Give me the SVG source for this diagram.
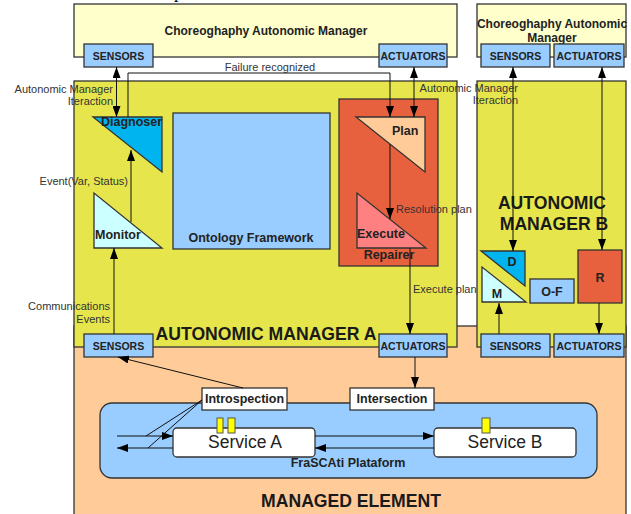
<svg xmlns="http://www.w3.org/2000/svg" width="631" height="514" viewBox="0 0 631 514">
  <style>
    text { font-family: "Liberation Sans", Arial, sans-serif; }
    .box { stroke: #333; stroke-width: 1.3; }
    .chore { fill: #ffffcc; }
    .am { fill: #e6e64c; }
    .managed { fill: #ffcc99; }
    .port { fill: #99ccff; }
    .red { fill: #e8613e; }
    .white { fill: #ffffff; }
    .pin { fill: #ffff00; stroke: #555; stroke-width: 1; }
    .port-lbl { font-size: 10.5px; font-weight: bold; fill: #222; text-anchor: middle; }
    .title { font-size: 12px; font-weight: bold; fill: #222; text-anchor: middle; }
    .big { font-size: 17.6px; font-weight: bold; fill: #1a1a1a; text-anchor: middle; }
    .lbl { font-size: 12.5px; font-weight: bold; fill: #222; }
    .note { font-size: 11px; fill: #333; }
    .conn { stroke: #111; stroke-width: 1; fill: none; }
  </style>
  <defs>
    <marker id="arr" viewBox="0 0 11 8" refX="11" refY="4" markerWidth="11" markerHeight="8" markerUnits="userSpaceOnUse" orient="auto-start-reverse">
      <path d="M0,0 L11,4 L0,8 z" fill="#000"/>
    </marker>
  </defs>

  <rect width="631" height="514" fill="#ffffff"/>
  <text x="174" y="-2" font-size="18" fill="#000" style="font-family:'Liberation Serif', serif">p</text>

  <!-- managed element background -->
  <g id="managed-element">
    <rect class="box managed" x="74" y="326" width="552" height="200"/>
    <text class="big" x="351" y="507" font-size="18">MANAGED ELEMENT</text>
  </g>

  <!-- choreography managers -->
  <g id="choreography-a">
    <rect class="box chore" x="74" y="4" width="383" height="53"/>
    <text class="title" x="266" y="35">Choreoghaphy Autonomic Manager</text>
  </g>
  <g id="choreography-b">
    <rect class="box chore" x="477" y="4" width="149" height="53"/>
    <text class="title" x="552" y="28">Choreoghaphy Autonomic</text>
    <text class="title" x="552" y="42">Manager</text>
  </g>

  <!-- autonomic manager A -->
  <g id="autonomic-manager-a">
    <rect class="box am" x="74" y="81" width="383" height="266"/>
    <text class="big" x="266" y="340">AUTONOMIC MANAGER A</text>
  </g>
  <g id="ontology-framework">
    <rect class="box port" x="173" y="113" width="157" height="136"/>
    <text class="lbl" x="251" y="242" text-anchor="middle" font-size="12.8">Ontology Framework</text>
  </g>
  <g id="planner-area">
    <rect class="box red" x="339" y="99" width="99" height="167"/>
  </g>
  <g id="diagnoser">
    <polygon class="box" points="93,117 162,117 162,172" fill="#00b4f0"/>
    <text class="lbl" x="101" y="126">Diagnoser</text>
  </g>
  <g id="monitor">
    <polygon class="box" points="94,193 94,248 162,248" fill="#ccffff"/>
    <text class="lbl" x="95" y="239">Monitor</text>
  </g>
  <g id="plan">
    <polygon class="box" points="356,117 425,117 425,172" fill="#ffcc99"/>
    <text class="lbl" x="392" y="135">Plan</text>
  </g>
  <g id="execute">
    <polygon class="box" points="357,193 357,248 426,248" fill="#ff8080"/>
    <text class="lbl" x="357" y="238">Execute</text>
    <text class="lbl" x="389" y="259" text-anchor="middle">Repairer</text>
  </g>

  <!-- autonomic manager B -->
  <g id="autonomic-manager-b">
    <rect class="box am" x="477" y="81" width="149" height="266"/>
    <text class="big" x="552" y="209" font-size="17.5">AUTONOMIC</text>
    <text class="big" x="554" y="230" font-size="17.5">MANAGER B</text>
  </g>
  <g id="d">
    <polygon class="box" points="481,251 525,251 525,286" fill="#00b4f0"/>
    <text class="lbl" x="512" y="266" text-anchor="middle">D</text>
  </g>
  <g id="m">
    <polygon class="box" points="482,267 482,302 526,302" fill="#ccffff"/>
    <text class="lbl" x="497" y="298" text-anchor="middle">M</text>
  </g>
  <g id="o-f">
    <rect class="box port" x="530" y="279" width="44" height="24"/>
    <text class="lbl" x="552" y="296" text-anchor="middle">O-F</text>
  </g>
  <g id="r">
    <rect class="box red" x="578" y="250" width="44" height="53"/>
    <text class="lbl" x="600" y="282" text-anchor="middle">R</text>
  </g>

  <!-- sensors and actuators -->
  <g id="sensors-chore-a">
    <rect class="box port" x="84" y="44" width="69" height="23"/>
    <text class="port-lbl" x="118.5" y="59.5">SENSORS</text>
  </g>
  <g id="actuators-chore-a">
    <rect class="box port" x="379" y="44" width="68" height="23"/>
    <text class="port-lbl" x="413" y="59.5">ACTUATORS</text>
  </g>
  <g id="sensors-chore-b">
    <rect class="box port" x="481" y="44" width="69" height="23"/>
    <text class="port-lbl" x="515.5" y="59.5">SENSORS</text>
  </g>
  <g id="actuators-chore-b">
    <rect class="box port" x="554" y="44" width="70" height="23"/>
    <text class="port-lbl" x="589" y="59.5">ACTUATORS</text>
  </g>
  <g id="sensors-am-a">
    <rect class="box port" x="84" y="334" width="69" height="23"/>
    <text class="port-lbl" x="118.5" y="349.5">SENSORS</text>
  </g>
  <g id="actuators-am-a">
    <rect class="box port" x="379" y="334" width="68" height="23"/>
    <text class="port-lbl" x="413" y="349.5">ACTUATORS</text>
  </g>
  <g id="sensors-am-b">
    <rect class="box port" x="481" y="334" width="69" height="23"/>
    <text class="port-lbl" x="515.5" y="349.5">SENSORS</text>
  </g>
  <g id="actuators-am-b">
    <rect class="box port" x="554" y="334" width="70" height="23"/>
    <text class="port-lbl" x="589" y="349.5">ACTUATORS</text>
  </g>

  <!-- FraSCAti platform -->
  <g id="frascati-platform">
    <rect class="box" x="100" y="403" width="497" height="75" rx="12" fill="#99ccff"/>
    <text class="lbl" x="348" y="467" text-anchor="middle" font-size="12">FraSCAti Plataform</text>
  </g>
  <g id="introspection">
    <rect class="box white" x="202" y="388" width="85" height="22"/>
    <text class="lbl" x="244.5" y="403" text-anchor="middle" font-size="11">Introspection</text>
  </g>
  <g id="intersection">
    <rect class="box white" x="350" y="388" width="84" height="22"/>
    <text class="lbl" x="392" y="403" text-anchor="middle" font-size="11">Intersection</text>
  </g>
  <g id="service-a">
    <rect class="box white" x="173" y="428" width="142" height="29" rx="4"/>
    <rect class="pin" x="217" y="418" width="6" height="15"/>
    <rect class="pin" x="228" y="418" width="7" height="15"/>
    <text x="245" y="448" font-size="17.5" fill="#222" text-anchor="middle">Service A</text>
  </g>
  <g id="service-b">
    <rect class="box white" x="434" y="428" width="142" height="29" rx="4"/>
    <rect class="pin" x="482" y="418" width="8" height="15"/>
    <text x="505" y="448" font-size="17.5" fill="#222" text-anchor="middle">Service B</text>
  </g>

  <!-- connectors -->
  <g id="connectors">
    <line class="conn" x1="116.5" y1="67" x2="116.5" y2="117" marker-start="url(#arr)" marker-end="url(#arr)"/>
    <polyline class="conn" points="128,117 128,73 390,73 390,117" marker-end="url(#arr)"/>
    <line class="conn" x1="414" y1="67" x2="414" y2="117" marker-start="url(#arr)" marker-end="url(#arr)"/>
    <line class="conn" x1="131" y1="222" x2="131" y2="150" marker-end="url(#arr)"/>
    <line class="conn" x1="114" y1="334" x2="114" y2="248" marker-end="url(#arr)"/>
    <line class="conn" x1="390" y1="144" x2="390" y2="219" marker-end="url(#arr)"/>
    <line class="conn" x1="410" y1="248" x2="410" y2="334" marker-end="url(#arr)"/>
    <line class="conn" x1="513" y1="67" x2="513" y2="251" marker-start="url(#arr)" marker-end="url(#arr)"/>
    <line class="conn" x1="602" y1="67" x2="602" y2="250" marker-start="url(#arr)" marker-end="url(#arr)"/>
    <line class="conn" x1="499" y1="334" x2="499" y2="303" marker-end="url(#arr)"/>
    <line class="conn" x1="599" y1="303" x2="599" y2="334" marker-end="url(#arr)"/>
    <line class="conn" x1="415" y1="357" x2="415" y2="388" marker-end="url(#arr)"/>
    <line class="conn" x1="243" y1="388" x2="118" y2="357" marker-end="url(#arr)"/>
    <line class="conn" x1="117" y1="436" x2="173" y2="436" marker-end="url(#arr)"/>
    <line class="conn" x1="173" y1="448" x2="117" y2="448" marker-end="url(#arr)"/>
    <line class="conn" x1="315" y1="436" x2="434" y2="436" marker-end="url(#arr)"/>
    <line class="conn" x1="434" y1="448" x2="315" y2="448" marker-end="url(#arr)"/>
    <line class="conn" x1="202" y1="400" x2="146" y2="436"/>
    <line class="conn" x1="202" y1="400" x2="148" y2="448"/>

    <text class="note" x="270" y="71" text-anchor="middle" font-size="11.8">Failure recognized</text>
    <text class="note" x="113" y="93" text-anchor="end">Autonomic Manager</text>
    <text class="note" x="113" y="105" text-anchor="end">Iteraction</text>
    <text class="note" x="518" y="92" text-anchor="end">Autonomic Manager</text>
    <text class="note" x="518" y="104" text-anchor="end">Iteraction</text>
    <text class="note" x="128" y="185" text-anchor="end">Event(Var, Status)</text>
    <text class="note" x="110" y="310" text-anchor="end">Communications</text>
    <text class="note" x="110" y="323" text-anchor="end">Events</text>
    <text class="note" x="396" y="213">Resolution plan</text>
    <text class="note" x="413" y="293">Execute plan</text>
  </g>
</svg>
